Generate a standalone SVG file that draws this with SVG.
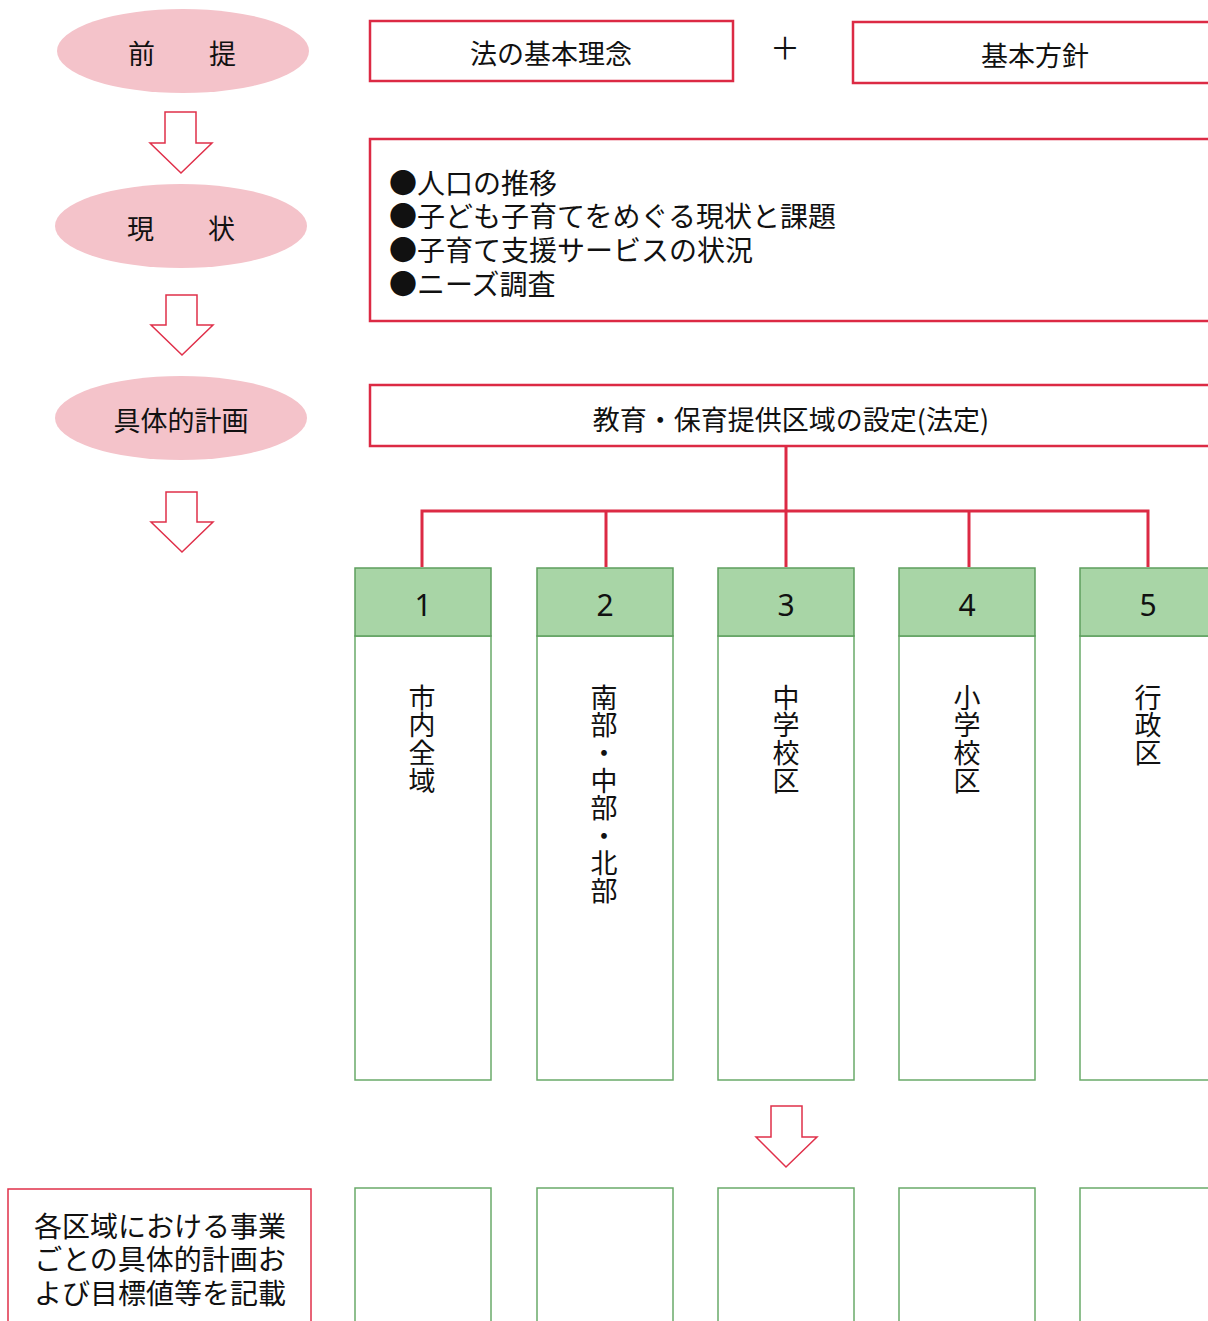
<svg xmlns="http://www.w3.org/2000/svg" width="1208" height="1321" viewBox="0 0 1208 1321">
<style>
text{font-family:"Noto Sans CJK JP","Noto Sans",sans-serif;fill:#111;}
.ell{fill:#f4c3ca;stroke:none;}
.rbox{fill:#fff;stroke:#dc2a44;stroke-width:2.5;}
.hdr{fill:#a8d5a6;stroke:#5d9e5d;stroke-width:1.5;}
.col{fill:#fff;stroke:#6aaa6a;stroke-width:1.5;}
.arr{fill:#fff;stroke:#e0304a;stroke-width:1.5;stroke-linejoin:miter;}
.line{fill:none;stroke:#dc2a44;stroke-width:3;}
.t27{font-size:27px;}
.c{text-anchor:middle;dominant-baseline:central;}
.v{font-size:27px;writing-mode:vertical-rl;text-anchor:start;letter-spacing:0.6px;}
.num{font-size:30px;text-anchor:middle;dominant-baseline:central;font-family:"Noto Sans","DejaVu Sans",sans-serif;}
</style>

<g id="connectors">
  <path class="line" d="M786,446 V567 M422,567 V511 H1148 V567 M606,511 V567"/>
  <path class="line" d="M969,511 V567"/>
  <polygon id="arrow1" class="arr" points="165,112 196,112 196,143 212,143 181,173 150,143 165,143"/>
  <polygon id="arrow2" class="arr" points="166,295 197,295 197,325 213,325 182,355 151,325 166,325"/>
  <polygon id="arrow3" class="arr" points="166,492 197,492 197,522 213,522 182,552 151,522 166,522"/>
  <polygon id="arrow4" class="arr" points="771,1106 802,1106 802,1137 817,1137 786,1167 756,1137 771,1137"/>
</g>

<g id="node-zentei">
  <ellipse class="ell" cx="183" cy="51" rx="126" ry="42"/>
  <text class="t27 c" x="182" y="52">前　　提</text>
</g>
<g id="node-genjo">
  <ellipse class="ell" cx="181" cy="226" rx="126" ry="42"/>
  <text class="t27 c" x="181" y="227">現　　状</text>
</g>
<g id="node-keikaku">
  <ellipse class="ell" cx="181" cy="418" rx="126" ry="42"/>
  <text class="t27 c" x="181" y="419">具体的計画</text>
</g>

<g id="node-rinen">
  <rect class="rbox" x="370" y="21" width="363" height="60"/>
  <text class="t27 c" x="551" y="52">法の基本理念</text>
</g>
<g id="plus">
  <text class="c" x="785" y="46" font-size="30">＋</text>
</g>
<g id="node-hoshin">
  <rect class="rbox" x="853" y="22" width="370" height="61"/>
  <text class="t27 c" x="1035" y="54">基本方針</text>
</g>

<g id="node-genjo-list">
  <rect class="rbox" x="370" y="139" width="860" height="182"/>
  <text font-size="28" dominant-baseline="central"><tspan x="389" y="182">●人口の推移</tspan><tspan x="389" y="215">●子ども子育てをめぐる現状と課題</tspan><tspan x="389" y="249">●子育て支援サービスの状況</tspan><tspan x="389" y="283">●ニーズ調査</tspan></text>
</g>

<g id="node-kuiki">
  <rect class="rbox" x="370" y="385" width="860" height="61"/>
  <text class="c" font-size="27" x="791" y="418">教育・保育提供区域の設定(法定)</text>
</g>

<g id="col1">
  <rect class="col" x="355" y="636" width="136" height="444"/>
  <rect class="hdr" x="355" y="568" width="136" height="68"/>
  <text class="num" x="423" y="604">1</text>
  <text class="v" x="422" y="684">市内全域</text>
</g>
<g id="col2">
  <rect class="col" x="537" y="636" width="136" height="444"/>
  <rect class="hdr" x="537" y="568" width="136" height="68"/>
  <text class="num" x="605" y="604">2</text>
  <text class="v" x="604" y="684">南部・中部・北部</text>
</g>
<g id="col3">
  <rect class="col" x="718" y="636" width="136" height="444"/>
  <rect class="hdr" x="718" y="568" width="136" height="68"/>
  <text class="num" x="786" y="604">3</text>
  <text class="v" x="786" y="684">中学校区</text>
</g>
<g id="col4">
  <rect class="col" x="899" y="636" width="136" height="444"/>
  <rect class="hdr" x="899" y="568" width="136" height="68"/>
  <text class="num" x="967" y="604">4</text>
  <text class="v" x="967" y="684">小学校区</text>
</g>
<g id="col5">
  <rect class="col" x="1080" y="636" width="136" height="444"/>
  <rect class="hdr" x="1080" y="568" width="136" height="68"/>
  <text class="num" x="1148" y="604">5</text>
  <text class="v" x="1148" y="684">行政区</text>
</g>

<g id="node-kisai">
  <rect x="8" y="1189" width="303" height="150" fill="#fff" stroke="#e0304a" stroke-width="1.5"/>
  <text class="c" font-size="28"><tspan x="160" y="1225">各区域における事業</tspan><tspan x="160" y="1258">ごとの具体的計画お</tspan><tspan x="160" y="1292">よび目標値等を記載</tspan></text>
</g>

<g id="bottom-boxes">
  <rect class="col" x="355" y="1188" width="136" height="150"/>
  <rect class="col" x="537" y="1188" width="136" height="150"/>
  <rect class="col" x="718" y="1188" width="136" height="150"/>
  <rect class="col" x="899" y="1188" width="136" height="150"/>
  <rect class="col" x="1080" y="1188" width="136" height="150"/>
</g>
</svg>
